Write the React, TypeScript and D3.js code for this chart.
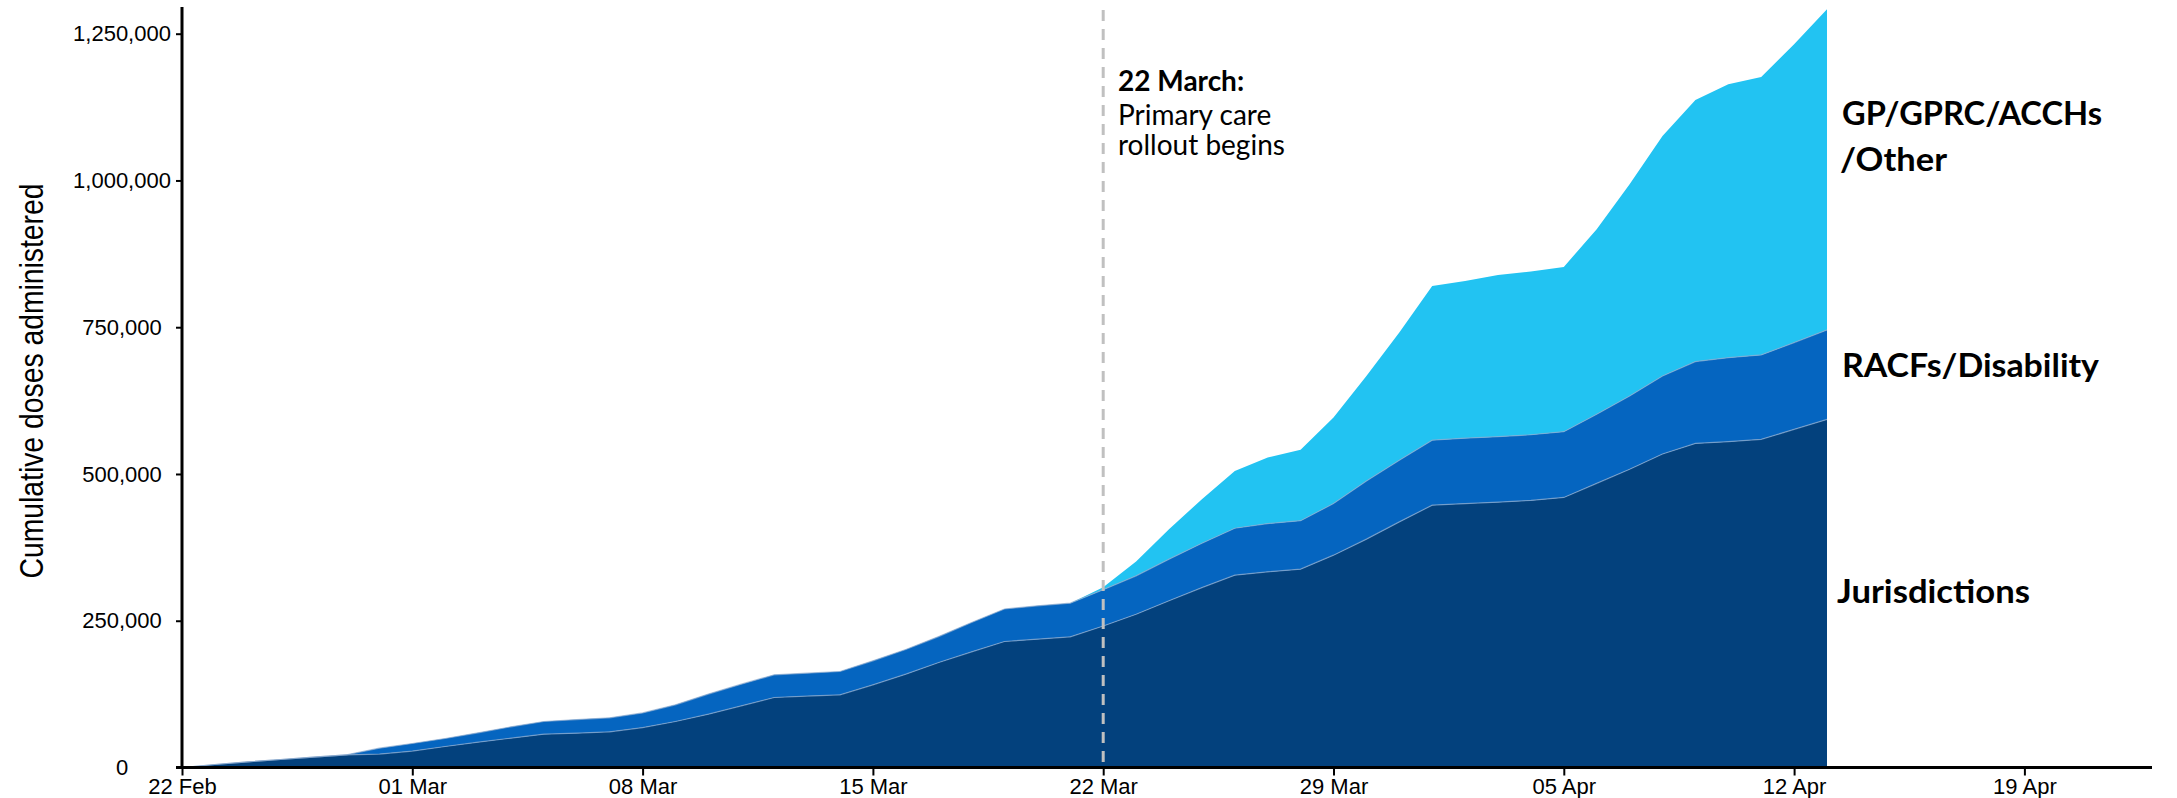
import { useEffect, useRef } from "react";
import * as d3 from "d3";

// cumulative doses per day, 22 Feb to 13 Apr 2021, one value per day
const startDay = "2021-02-22";
const endDay = "2021-04-14";

const jurisdictions = [
  0, 5100, 9700, 13600, 17700, 21600, 22800, 27900, 35800, 43200, 50000,
  56800, 58500, 60800, 68000, 78300, 90900, 105000, 119200, 121600, 123800,
  140800, 159000, 178800, 197000, 214600, 218600, 222600, 241000, 261000,
  284000, 306500, 327600, 333300, 337900, 361700, 389000, 418400, 446900,
  449600, 452000, 455000, 460000, 484000, 508000, 534000, 552000, 555000,
  559000, 576000, 593000,
];

const racfDisability = [
  0, 0, 0, 0, 0, 0, 10200, 13000, 13600, 15800, 19300, 21600, 23200, 23800,
  25000, 28500, 34100, 37000, 38700, 39100, 39700, 40900, 42000, 44200, 50000,
  55400, 56800, 57400, 62000, 65500, 70900, 75500, 80000, 82200, 82500, 87900,
  99200, 105100, 110700, 111400, 111500, 111800, 112000, 117800, 125000,
  133000, 139400, 143200, 143800, 147800, 152400,
];

const gpOther = [
  0, 0, 0, 0, 0, 0, 0, 0, 0, 0, 0, 0, 0, 0, 0, 0, 0, 0, 0, 0, 0, 0, 0, 0, 0,
  0, 0, 0, 4000, 24300, 51100, 75000, 97400, 112500, 120900, 146400, 178800,
  217300, 262700, 267800, 275500, 278000, 280700, 315200, 360500, 408800,
  445600, 465600, 473500, 508200, 546100,
];

const seriesKeys = ["jurisdictions", "racf", "gp"];
const seriesColors = ["#03417d", "#0565c0", "#22c3f2"];

const yTicks = [0, 250000, 500000, 750000, 1000000, 1250000];
const xTicks = [
  "2021-02-22",
  "2021-03-01",
  "2021-03-08",
  "2021-03-15",
  "2021-03-22",
  "2021-03-29",
  "2021-04-05",
  "2021-04-12",
  "2021-04-19",
];
const axisEnd = "2021-04-23";
const rolloutDay = "2021-03-22";

export default function App() {
  const ref = useRef<SVGSVGElement>(null);

  useEffect(() => {
    const svg = d3.select(ref.current);
    svg.selectAll("*").remove();

    const parse = d3.utcParse("%Y-%m-%d");
    const days = d3.utcDay.range(parse(startDay)!, parse(endDay)!);
    const rows = days.map((d, i) => ({
      date: d,
      jurisdictions: jurisdictions[i],
      racf: racfDisability[i],
      gp: gpOther[i],
    }));

    const x = d3
      .scaleUtc()
      .domain([parse(startDay)!, parse(axisEnd)!])
      .range([182, 2156]);
    const y = d3.scaleLinear().domain([0, 1250000]).range([767.5, 33.7]);

    const stack = d3.stack<any>().keys(seriesKeys)(rows);

    const area = d3
      .area<any>()
      .x((d) => x(d.data.date))
      .y0((d) => y(d[0]))
      .y1((d) => y(d[1]));

    svg
      .append("g")
      .selectAll("path")
      .data(stack)
      .enter()
      .append("path")
      .attr("d", area)
      .attr("fill", (_, i) => seriesColors[i]);

    // faint line between the layers
    const edge = d3
      .line<any>()
      .x((d) => x(d.data.date))
      .y((d) => y(d[1]));
    svg
      .append("g")
      .selectAll("path")
      .data(stack.slice(0, 2))
      .enter()
      .append("path")
      .attr("d", edge)
      .attr("fill", "none")
      .attr("stroke", "#8aa9cf")
      .attr("stroke-opacity", 0.7)
      .attr("stroke-width", 1.2);

    // primary care rollout marker
    const rx = x(parse(rolloutDay)!);
    svg
      .append("line")
      .attr("x1", rx)
      .attr("x2", rx)
      .attr("y1", 10)
      .attr("y2", 766)
      .attr("stroke", "#c0c0c0")
      .attr("stroke-width", 3)
      .attr("stroke-dasharray", "11 8");

    const note = svg
      .append("g")
      .style("font-family", "Lato, 'Open Sans', sans-serif")
      .style("font-size", "28px")
      .attr("fill", "#000");
    note
      .append("text")
      .attr("x", 1118)
      .attr("y", 91)
      .style("font-weight", "bold")
      .text("22 March:");
    note.append("text").attr("x", 1118).attr("y", 125).text("Primary care");
    note.append("text").attr("x", 1118).attr("y", 155).text("rollout begins");

    // Y axis (labels are centred in the reference)
    const yAxis = svg
      .append("g")
      .attr("transform", "translate(182,0)")
      .call(d3.axisLeft(y).tickValues(yTicks).tickSize(6).tickFormat(d3.format(",")));
    yAxis.select(".domain").remove();
    yAxis.selectAll("line").attr("stroke", "#000").attr("stroke-width", 2);
    yAxis
      .selectAll("text")
      .attr("x", -60)
      .attr("text-anchor", "middle")
      .style("font-family", "'Liberation Sans', Arial, sans-serif")
      .style("font-size", "22px")
      .attr("fill", "#000");
    svg
      .append("line")
      .attr("x1", 182)
      .attr("x2", 182)
      .attr("y1", 7)
      .attr("y2", 769)
      .attr("stroke", "#000")
      .attr("stroke-width", 3);

    // X axis
    const xAxis = svg
      .append("g")
      .attr("transform", "translate(0,767.5)")
      .call(
        d3
          .axisBottom(x)
          .tickValues(xTicks.map((t) => parse(t)!))
          .tickSize(8)
          .tickPadding(3)
          .tickFormat((d) => d3.utcFormat("%d %b")(d as Date)),
      );
    xAxis.select(".domain").remove();
    xAxis.selectAll("line").attr("stroke", "#000").attr("stroke-width", 2);
    xAxis
      .selectAll("text")
      .style("font-family", "'Liberation Sans', Arial, sans-serif")
      .style("font-size", "22px")
      .attr("fill", "#000");
    svg
      .append("line")
      .attr("x1", 176)
      .attr("x2", 2152)
      .attr("y1", 767.5)
      .attr("y2", 767.5)
      .attr("stroke", "#000")
      .attr("stroke-width", 3);

    // Y axis title
    svg
      .append("text")
      .attr("transform", "translate(43,381) rotate(-90)")
      .attr("text-anchor", "middle")
      .attr("textLength", 395)
      .attr("lengthAdjust", "spacingAndGlyphs")
      .style("font-family", "'Liberation Sans Narrow', 'Liberation Sans', Arial, sans-serif")
      .style("font-size", "33px")
      .attr("fill", "#000")
      .text("Cumulative doses administered");

    // series labels at the right
    const labels = [
      { text: "GP/GPRC/ACCHs", x: 1842, y: 125, w: 260 },
      { text: "/Other", x: 1840, y: 171, w: 107 },
      { text: "RACFs/Disability", x: 1842, y: 377, w: 257 },
      { text: "Jurisdictions", x: 1837, y: 603, w: 193 },
    ];
    svg
      .append("g")
      .selectAll("text")
      .data(labels)
      .enter()
      .append("text")
      .attr("x", (d) => d.x)
      .attr("y", (d) => d.y)
      .attr("textLength", (d) => d.w)
      .attr("lengthAdjust", "spacingAndGlyphs")
      .style("font-family", "Lato, 'Open Sans', sans-serif")
      .style("font-weight", "bold")
      .style("font-size", "32px")
      .attr("fill", "#000")
      .text((d) => d.text);
  }, []);

  return (
    <svg
      ref={ref}
      width={2177}
      height={798}
      style={{ position: "absolute", left: 0, top: 0, display: "block", background: "#fff" }}
    />
  );
}
